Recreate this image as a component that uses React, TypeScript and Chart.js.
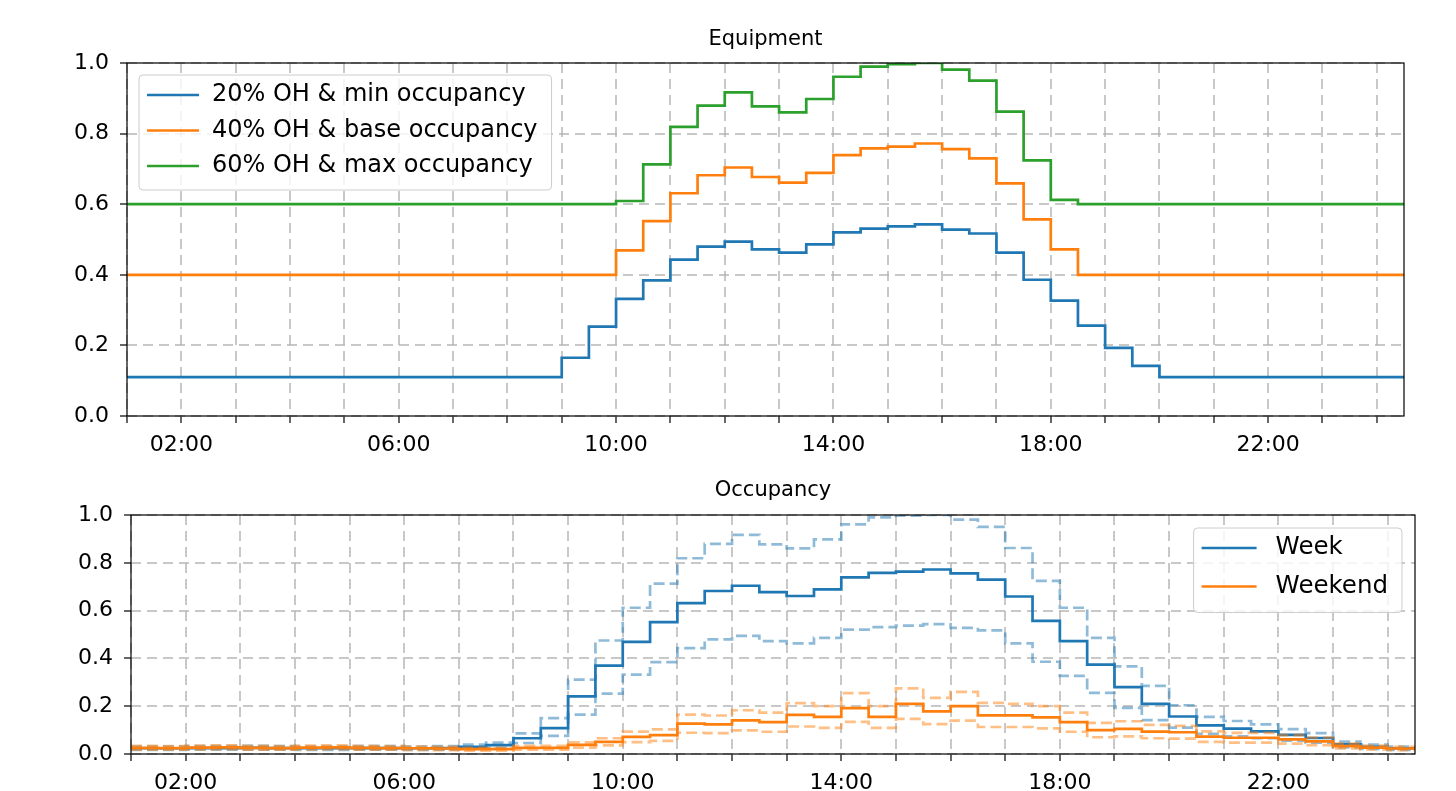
import React, { useEffect, useRef } from "react";
import { Chart, registerables } from "chart.js";

Chart.register(...registerables);
Chart.defaults.font.family = '"DejaVu Sans", sans-serif';

// Half-hour time stamps (hours of day); each value holds until the next stamp
const HOURS = [1, 1.5, 2, 2.5, 3, 3.5, 4, 4.5, 5, 5.5, 6, 6.5, 7, 7.5, 8, 8.5, 9, 9.5, 10, 10.5, 11, 11.5, 12, 12.5, 13, 13.5, 14, 14.5, 15, 15.5, 16, 16.5, 17, 17.5, 18, 18.5, 19, 19.5, 20, 20.5, 21, 21.5, 22, 22.5, 23, 23.5, 24, 24.5];

// Equipment panel
const EQ_MIN = [0.11, 0.11, 0.11, 0.11, 0.11, 0.11, 0.11, 0.11, 0.11, 0.11, 0.11, 0.11, 0.11, 0.11, 0.11, 0.11,
  0.165, 0.253, 0.332, 0.384, 0.443, 0.48, 0.494, 0.472, 0.463, 0.486, 0.52, 0.531, 0.537, 0.543, 0.528, 0.517, 0.463, 0.386, 0.327, 0.256, 0.193, 0.142,
  0.11, 0.11, 0.11, 0.11, 0.11, 0.11, 0.11, 0.11, 0.11, 0.11];
const EQ_BASE = [0.4, 0.4, 0.4, 0.4, 0.4, 0.4, 0.4, 0.4, 0.4, 0.4, 0.4, 0.4, 0.4, 0.4, 0.4, 0.4, 0.4, 0.4,
  0.469, 0.552, 0.631, 0.682, 0.704, 0.677, 0.661, 0.689, 0.739, 0.758, 0.763, 0.772, 0.756, 0.73, 0.659, 0.557, 0.472,
  0.4, 0.4, 0.4, 0.4, 0.4, 0.4, 0.4, 0.4, 0.4, 0.4, 0.4, 0.4, 0.4];
const EQ_MAX = [0.6, 0.6, 0.6, 0.6, 0.6, 0.6, 0.6, 0.6, 0.6, 0.6, 0.6, 0.6, 0.6, 0.6, 0.6, 0.6, 0.6, 0.6,
  0.609, 0.713, 0.819, 0.879, 0.917, 0.877, 0.86, 0.898, 0.961, 0.99, 0.997, 1.0, 0.981, 0.95, 0.862, 0.724, 0.612,
  0.6, 0.6, 0.6, 0.6, 0.6, 0.6, 0.6, 0.6, 0.6, 0.6, 0.6, 0.6, 0.6];

// Occupancy panel
const WEEK_BASE = [0.024, 0.024, 0.025, 0.025, 0.026, 0.025, 0.024, 0.024, 0.025, 0.025, 0.024, 0.025,
  0.03, 0.037, 0.066, 0.108, 0.241, 0.37, 0.469, 0.552, 0.631, 0.682, 0.704, 0.677, 0.661, 0.689, 0.739, 0.758, 0.763, 0.772, 0.756, 0.73, 0.659, 0.557, 0.472, 0.374,
  0.28, 0.21, 0.157, 0.12, 0.106, 0.095, 0.08, 0.067, 0.04, 0.03, 0.024, 0.024];
const WEEK_MIN = [0.017, 0.017, 0.018, 0.018, 0.018, 0.018, 0.017, 0.017, 0.018, 0.018, 0.017, 0.018,
  0.021, 0.026, 0.046, 0.076, 0.165, 0.253, 0.332, 0.384, 0.443, 0.48, 0.494, 0.472, 0.463, 0.486, 0.52, 0.531, 0.537, 0.543, 0.528, 0.517, 0.463, 0.386, 0.327, 0.256,
  0.193, 0.142, 0.11, 0.084, 0.074, 0.066, 0.056, 0.047, 0.028, 0.021, 0.017, 0.017];
const WEEK_MAX = [0.031, 0.031, 0.033, 0.033, 0.034, 0.033, 0.031, 0.031, 0.033, 0.033, 0.031, 0.033,
  0.039, 0.048, 0.086, 0.15, 0.311, 0.475, 0.612, 0.713, 0.819, 0.879, 0.917, 0.877, 0.86, 0.898, 0.961, 0.99, 0.997, 1.0, 0.981, 0.95, 0.862, 0.724, 0.612, 0.486,
  0.367, 0.285, 0.204, 0.155, 0.138, 0.124, 0.104, 0.087, 0.052, 0.039, 0.031, 0.031];
const WEEKEND_BASE = [0.026, 0.025, 0.027, 0.028, 0.026, 0.025, 0.027, 0.028, 0.026, 0.025, 0.024, 0.023,
  0.02, 0.02, 0.026, 0.026, 0.038, 0.051, 0.072, 0.079, 0.127, 0.124, 0.141, 0.133, 0.164, 0.155, 0.192, 0.155, 0.21, 0.178, 0.2, 0.162, 0.162, 0.153, 0.133, 0.1,
  0.105, 0.094, 0.091, 0.073, 0.068, 0.068, 0.061, 0.053, 0.033, 0.027, 0.023, 0.023];
const WEEKEND_MIN = [0.018, 0.018, 0.019, 0.02, 0.018, 0.018, 0.019, 0.02, 0.018, 0.018, 0.017, 0.016,
  0.014, 0.014, 0.018, 0.018, 0.027, 0.036, 0.05, 0.055, 0.089, 0.087, 0.099, 0.093, 0.115, 0.109, 0.134, 0.109, 0.147, 0.125, 0.14, 0.113, 0.113, 0.107, 0.093, 0.07,
  0.074, 0.066, 0.064, 0.051, 0.048, 0.048, 0.043, 0.037, 0.023, 0.019, 0.016, 0.016];
const WEEKEND_MAX = [0.034, 0.033, 0.035, 0.036, 0.034, 0.033, 0.035, 0.036, 0.034, 0.033, 0.031, 0.03,
  0.026, 0.026, 0.034, 0.034, 0.049, 0.066, 0.094, 0.103, 0.165, 0.161, 0.183, 0.173, 0.213, 0.2, 0.255, 0.2, 0.275, 0.235, 0.26, 0.214, 0.21, 0.2, 0.173, 0.13,
  0.137, 0.122, 0.118, 0.095, 0.088, 0.088, 0.079, 0.069, 0.043, 0.035, 0.03, 0.03];

// Axis ticks
const X_TICKS = [1, 2, 3, 4, 5, 6, 7, 8, 9, 10, 11, 12, 13, 14, 15, 16, 17, 18, 19, 20, 21, 22, 23, 24];
const X_LABELED = [2, 6, 10, 14, 18, 22];
const Y_TICKS = [0, 0.2, 0.4, 0.6, 0.8, 1.0];

const BLUE = "#1f77b4";
const ORANGE = "#ff7f0e";
const GREEN = "#2ca02c";
const BLUE_A = "rgba(31,119,180,0.5)";
const ORANGE_A = "rgba(255,127,14,0.5)";
const GRID = "rgba(176,176,176,0.7)";
const FONT = '"DejaVu Sans", sans-serif';

const toPoints = (arr: number[]) => HOURS.map((h, i) => ({ x: h, y: arr[i] }));

const line = (label: string, data: number[], color: string, extra: any = {}) => ({
  label,
  data: toPoints(data),
  borderColor: color,
  backgroundColor: color,
  borderWidth: 2.7,
  pointRadius: 0,
  stepped: "before",
  fill: false,
  ...extra,
});

const framePlugin = {
  id: "frame",
  afterDatasetsDraw(chart: any) {
    const { ctx, chartArea: a } = chart;
    ctx.save();
    ctx.strokeStyle = "#000";
    ctx.lineWidth = 1.2;
    ctx.strokeRect(a.left, a.top, a.right - a.left, a.bottom - a.top);
    ctx.restore();
  },
};

const titlePlugin = {
  id: "axTitle",
  afterDraw(chart: any, _args: any, o: any) {
    const { ctx, chartArea: a } = chart;
    ctx.save();
    ctx.font = `${o.size}px ${FONT}`;
    ctx.fillStyle = "#000";
    ctx.textAlign = "center";
    ctx.textBaseline = "middle";
    ctx.fillText(o.text, (a.left + a.right) / 2, a.top - o.offset);
    ctx.restore();
  },
};

const legendPlugin = {
  id: "boxLegend",
  afterDraw(chart: any, _args: any, o: any) {
    const { ctx, chartArea: a } = chart;
    const items = chart.data.datasets
      .filter((d: any) => d.label)
      .map((d: any) => ({ label: d.label, color: d.borderColor }));
    ctx.save();
    ctx.font = `${o.size}px ${FONT}`;
    const tw = Math.max(...items.map((i: any) => ctx.measureText(i.label).width));
    const w = o.textStart + tw + o.padRight;
    const h = o.padTop + (items.length - 1) * o.rowGap + o.padBottom;
    const x0 = o.corner === "tl" ? a.left + o.margin : a.right - o.margin - w;
    const y0 = a.top + o.margin;
    ctx.beginPath();
    ctx.roundRect(x0, y0, w, h, 4);
    ctx.fillStyle = "rgba(255,255,255,0.8)";
    ctx.fill();
    ctx.strokeStyle = "#cccccc";
    ctx.lineWidth = 1;
    ctx.stroke();
    items.forEach((it: any, k: number) => {
      const y = y0 + o.padTop + k * o.rowGap;
      ctx.strokeStyle = it.color;
      ctx.lineWidth = 2.7;
      ctx.beginPath();
      ctx.moveTo(x0 + o.lineStart, y);
      ctx.lineTo(x0 + o.lineStart + o.lineLen, y);
      ctx.stroke();
      ctx.fillStyle = "#000";
      ctx.textAlign = "left";
      ctx.textBaseline = "middle";
      ctx.fillText(it.label, x0 + o.textStart, y);
    });
    ctx.restore();
  },
};

const fmtHour = (v: number) => `${String(v).padStart(2, "0")}:00`;

function makeScales(yWidth: number, xHeight: number) {
  const grid = { color: GRID, lineWidth: 2, tickLength: 7, tickColor: "#000", tickWidth: 1.2 };
  return {
    x: {
      type: "linear",
      min: 1,
      max: 24.5,
      afterBuildTicks: (s: any) => {
        s.ticks = X_TICKS.map((v) => ({ value: v }));
      },
      afterFit: (s: any) => {
        s.height = xHeight;
      },
      ticks: {
        autoSkip: false,
        maxRotation: 0,
        minRotation: 0,
        padding: 9,
        color: "#000",
        font: { size: 22 },
        callback: (v: any) => (X_LABELED.includes(Number(v)) ? fmtHour(Number(v)) : ""),
      },
      grid,
      border: { display: false, dash: [10, 6] },
    },
    y: {
      type: "linear",
      min: 0,
      max: 1,
      afterBuildTicks: (s: any) => {
        s.ticks = Y_TICKS.map((v) => ({ value: v }));
      },
      afterFit: (s: any) => {
        s.width = yWidth;
      },
      ticks: {
        padding: 11,
        color: "#000",
        font: { size: 22 },
        callback: (v: any) => Number(v).toFixed(1),
      },
      grid,
      border: { display: false, dash: [10, 6] },
    },
  };
}

export default function App() {
  const topRef = useRef<HTMLCanvasElement | null>(null);
  const botRef = useRef<HTMLCanvasElement | null>(null);

  useEffect(() => {
    const top = new Chart(topRef.current as HTMLCanvasElement, {
      type: "line",
      data: {
        datasets: [
          line("20% OH & min occupancy", EQ_MIN, BLUE),
          line("40% OH & base occupancy", EQ_BASE, ORANGE),
          line("60% OH & max occupancy", EQ_MAX, GREEN),
        ],
      },
      options: {
        animation: false,
        responsive: false,
        events: [],
        layout: { padding: { left: 0, right: 52, top: 63, bottom: 0 } },
        scales: makeScales(127, 44) as any,
        plugins: {
          legend: { display: false },
          title: { display: false },
          tooltip: { enabled: false },
          axTitle: { text: "Equipment", size: 21, offset: 23 },
          boxLegend: {
            corner: "tl", margin: 12, size: 24, rowGap: 35.5, padTop: 20, padBottom: 24,
            lineStart: 8, lineLen: 52, textStart: 73, padRight: 14,
          },
        } as any,
      },
      plugins: [framePlugin, titlePlugin, legendPlugin],
    } as any);

    const bot = new Chart(botRef.current as HTMLCanvasElement, {
      type: "line",
      data: {
        datasets: [
          line("Week", WEEK_BASE, BLUE, { order: 2 }),
          line("", WEEK_MIN, BLUE_A, { borderDash: [11, 5], order: 3 }),
          line("", WEEK_MAX, BLUE_A, { borderDash: [11, 5], order: 3 }),
          line("Weekend", WEEKEND_BASE, ORANGE, { order: 0 }),
          line("", WEEKEND_MIN, ORANGE_A, { borderDash: [11, 5], order: 1 }),
          line("", WEEKEND_MAX, ORANGE_A, { borderDash: [11, 5], order: 1 }),
        ],
      },
      options: {
        animation: false,
        responsive: false,
        events: [],
        layout: { padding: { left: 0, right: 41, top: 55, bottom: 0 } },
        scales: makeScales(131, 66) as any,
        plugins: {
          legend: { display: false },
          title: { display: false },
          tooltip: { enabled: false },
          axTitle: { text: "Occupancy", size: 21, offset: 24 },
          boxLegend: {
            corner: "tr", margin: 13, size: 24.5, rowGap: 38.5, padTop: 20, padBottom: 26,
            lineStart: 8, lineLen: 55, textStart: 82, padRight: 14,
          },
        } as any,
      },
      plugins: [framePlugin, titlePlugin, legendPlugin],
    } as any);

    return () => {
      top.destroy();
      bot.destroy();
    };
  }, []);

  return (
    <div style={{ position: "fixed", left: 0, top: 0, width: 1456, height: 791, overflow: "hidden", background: "#fff" }}>
      <canvas ref={topRef} width={1456} height={460} style={{ position: "absolute", left: 0, top: 0, width: 1456, height: 460 }} />
      <canvas ref={botRef} width={1456} height={360} style={{ position: "absolute", left: 0, top: 460, width: 1456, height: 360 }} />
    </div>
  );
}
